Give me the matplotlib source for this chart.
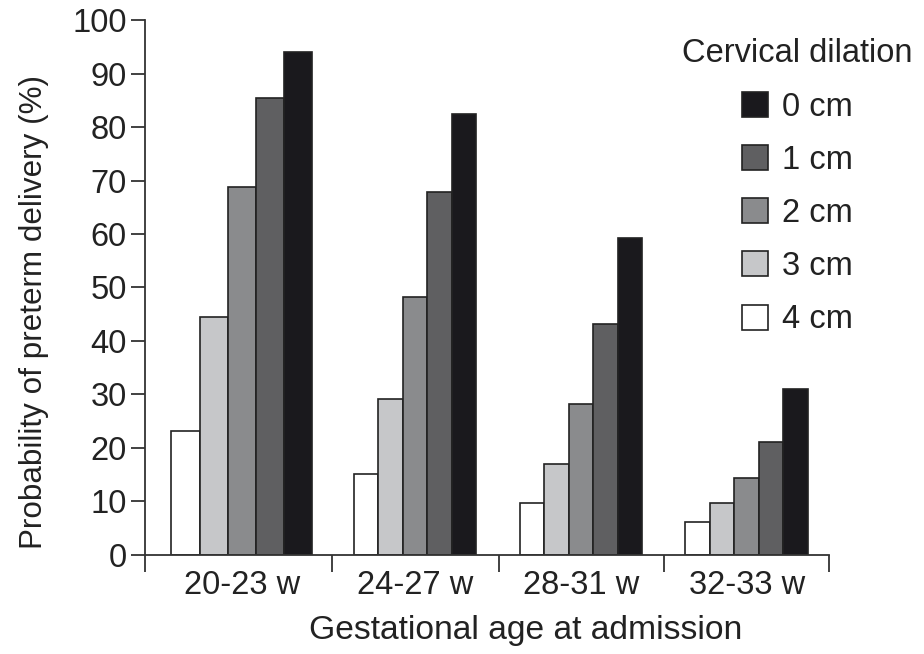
import matplotlib
matplotlib.use("Agg")
import matplotlib.pyplot as plt
import numpy as np

plt.rcParams['font.family'] = ['Liberation Sans', 'DejaVu Sans']

groups = ["20-23 w", "24-27 w", "28-31 w", "32-33 w"]
dilations = ["4 cm", "3 cm", "2 cm", "1 cm", "0 cm"]
vals_4cm = [23.2, 15.1, 9.7, 6.2]
vals_3cm = [44.5, 29.2, 17.0, 9.7]
vals_2cm = [68.8, 48.2, 28.2, 14.3]
vals_1cm = [85.4, 67.9, 43.2, 21.1]
vals_0cm = [94.1, 82.4, 59.3, 31.0]
series = [vals_4cm, vals_3cm, vals_2cm, vals_1cm, vals_0cm]
colors = ["#ffffff", "#c6c7c9", "#8a8b8d", "#5f5f61", "#1a191d"]

# layout
centers = np.array([-0.046, 1.0, 2.0, 3.0])
widths = np.array([0.17, 0.148, 0.148, 0.148])
bounds = [-0.63, 0.497, 1.503, 2.503, 3.497]

FS = 23.5
fig = plt.figure(figsize=(9.24, 6.54), dpi=100)
ax = fig.add_axes([0.1569, 0.1514, 0.8972 - 0.1569, 0.9694 - 0.1514])

handles = []
for i, (vals, c, lab) in enumerate(zip(series, colors, dilations)):
    x = centers + (i - 2) * widths
    b = ax.bar(x, vals, width=widths, color=c, edgecolor="#222222", linewidth=1.2, label=lab)
    handles.append(b)

ax.set_xlim(bounds[0], bounds[-1])
ax.set_ylim(0, 100)
ax.set_yticks(np.arange(0, 101, 10))
ax.set_xticks(centers)
ax.set_xticklabels(groups)
ax.set_xticks(bounds, minor=True)
ax.tick_params(axis='x', which='major', length=0, pad=11, labelsize=FS)
ax.tick_params(axis='x', which='minor', length=12, width=1.3, color="#333333")
ax.tick_params(axis='y', length=10, width=1.3, color="#333333", labelsize=FS, pad=3)
for s in ['top', 'right']:
    ax.spines[s].set_visible(False)
for s in ['left', 'bottom']:
    ax.spines[s].set_linewidth(1.3)
    ax.spines[s].set_color("#333333")
for lab in ax.get_xticklabels() + ax.get_yticklabels():
    lab.set_color("#222222")

ax.set_xlabel("Gestational age at admission", fontsize=24.2, color="#222222")
ax.xaxis.set_label_coords(0.556, -0.113)
ax.set_ylabel("Probability of preterm delivery (%)", fontsize=22.6, color="#222222")
ax.yaxis.set_label_coords(-0.14, 0.455)

leg = ax.legend(handles[::-1], dilations[::-1], title="Cervical dilation", frameon=False,
                fontsize=FS, title_fontsize=FS, handlelength=0.8, handleheight=0.8,
                handletextpad=0.43, labelspacing=0.68,
                loc='upper left', bbox_to_anchor=(0.766, 0.99), borderaxespad=0)
leg._legend_box.align = "center"
for t in leg.get_texts():
    t.set_color("#222222")
leg.get_title().set_color("#222222")

fig.savefig("out.png", dpi=100)
